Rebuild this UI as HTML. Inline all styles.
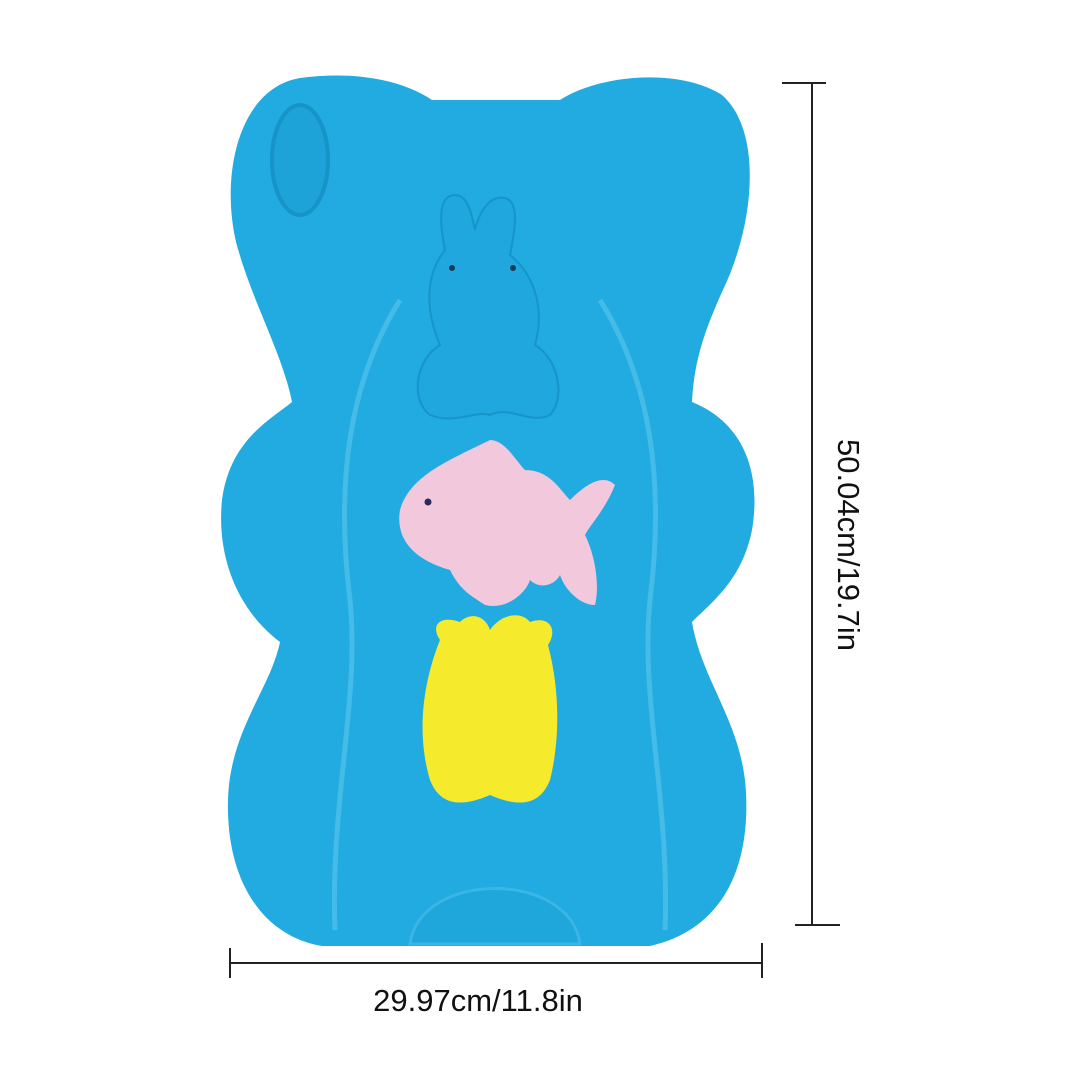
<!DOCTYPE html>
<html><head><meta charset="utf-8"><style>
html,body{margin:0;padding:0;background:#fff;}
svg{display:block;}
text{font-family:"Liberation Sans",sans-serif;fill:#111;}
</style></head><body>
<svg width="1089" height="1089" viewBox="0 0 1089 1089">
<g>
<path fill="#22abe0" d="M300,78 C360,70 405,82 432,100 L560,100 C600,74 680,68 722,95 C762,130 756,222 722,292 C704,332 694,362 692,402 C742,422 762,470 752,530 C742,580 712,602 692,622 C702,682 742,722 746,792 C750,872 720,930 650,946 L322,946 C262,936 226,880 228,800 C230,730 270,690 280,642 C240,612 216,560 222,500 C230,440 270,420 292,402 C282,352 252,302 236,242 C220,172 240,88 300,78 Z"/>
<path fill="none" stroke="#45bbe8" stroke-width="5" d="M400,300 C350,380 335,480 350,600 C360,700 330,800 335,930 M600,300 C650,380 665,480 650,600 C640,700 670,800 665,930"/>
<ellipse cx="300" cy="160" rx="28" ry="55" fill="#1da3d8" stroke="#1694c8" stroke-width="4"/>
<path fill="#1fa6da" stroke="#3ab6e6" stroke-width="3" d="M410,944 C420,870 570,870 580,944 Z"/>
<path fill="#20a7dd" stroke="#1794c8" stroke-width="2" d="M445,250 C438,215 440,195 455,195 C468,195 472,215 475,230 C480,210 490,195 505,198 C520,202 515,230 510,255 C535,275 545,310 535,345 C560,360 565,400 550,415 C530,425 510,405 490,415 C475,410 455,425 430,415 C410,400 415,360 440,345 C425,310 425,275 445,250 Z"/>
<circle cx="452" cy="268" r="3" fill="#1a3a5a"/><circle cx="513" cy="268" r="3" fill="#1a3a5a"/>
<path fill="#f1c8dc" d="M400,510 C410,475 450,460 490,440 C505,440 515,460 525,470 C550,470 560,490 570,500 C590,480 605,475 615,485 C605,510 590,525 585,535 C595,555 600,585 595,605 C580,605 565,590 560,575 C555,585 540,590 530,580 C525,595 505,610 485,605 C470,595 460,590 450,570 C415,560 395,540 400,510 Z"/>
<circle cx="428" cy="502" r="3.5" fill="#2a2a5a"/>
<path fill="#f6ea2c" d="M440,640 C430,625 440,615 460,622 C470,612 485,615 490,630 C500,615 520,610 530,622 C550,615 558,630 548,645 C560,690 560,740 550,780 C540,805 520,808 490,795 C460,808 440,805 430,780 C418,740 420,690 440,640 Z"/>
</g>
<g stroke="#222" stroke-width="2">
<line x1="812" y1="83" x2="812" y2="925"/>
<line x1="782" y1="83" x2="826" y2="83"/>
<line x1="795" y1="925" x2="840" y2="925"/>
</g>
<text font-size="31" text-anchor="middle" transform="translate(838,545) rotate(90)">50.04cm/19.7in</text>
<g stroke="#222" stroke-width="2">
<line x1="230" y1="963" x2="762" y2="963"/>
<line x1="230" y1="948" x2="230" y2="978"/>
<line x1="762" y1="943" x2="762" y2="978"/>
</g>
<text font-size="31" text-anchor="middle" x="478" y="1011">29.97cm/11.8in</text>
</svg>
</body></html>
